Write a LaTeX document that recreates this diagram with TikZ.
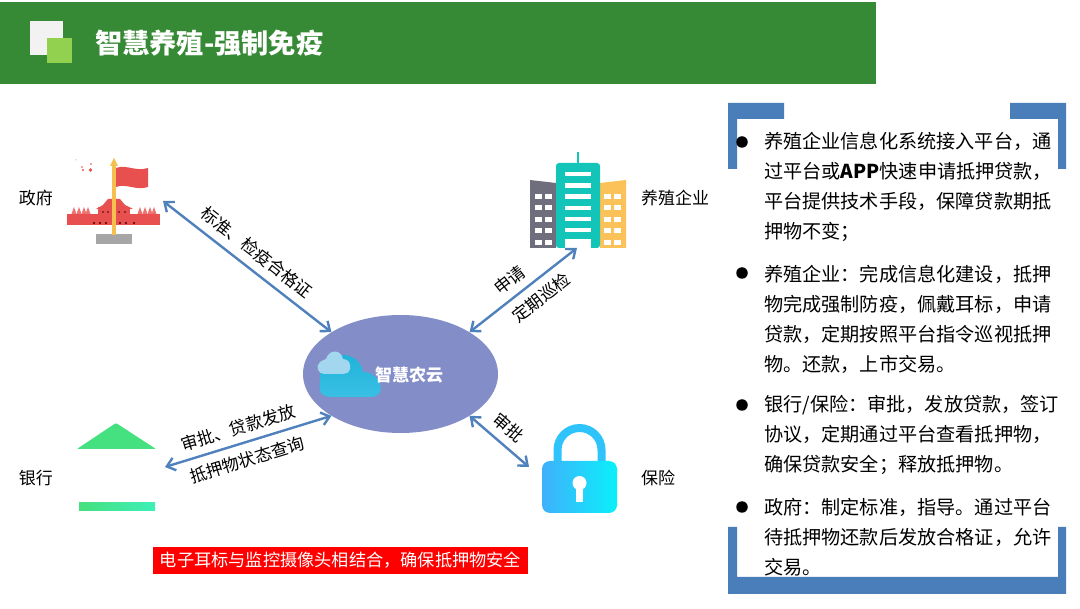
\documentclass[tikz,border=0pt]{standalone}
\usepackage{fontspec}
\setmainfont{Noto Sans CJK SC}
\usetikzlibrary{arrows.meta, shapes.geometric}
\definecolor{headgreen}{HTML}{378A35}
\definecolor{leafgreen}{HTML}{92D050}
\definecolor{linkblue}{HTML}{4F81BD}
\definecolor{framblue}{HTML}{4A7EBB}
\definecolor{hubblue}{HTML}{838DC7}
\definecolor{flagred}{HTML}{E8504F}
\definecolor{polegold}{HTML}{F5C050}
\definecolor{towergray}{HTML}{6F6E7C}
\definecolor{towerteal}{HTML}{12C5B8}
\definecolor{toweramber}{HTML}{FBC25A}
\definecolor{bankgreen}{HTML}{45E07F}
\definecolor{bankmint}{HTML}{3EEFB8}
\definecolor{lockblue}{HTML}{3FB0FB}
\definecolor{lockcyan}{HTML}{0AF0FA}
\definecolor{cloudsea}{HTML}{1FB3DA}
\definecolor{cloudsky}{HTML}{3ABFE4}
\definecolor{cloudpale}{HTML}{A3D6EF}
\begin{document}
\begin{tikzpicture}[x=1pt, y=-1pt,
    link/.style={{Straight Barb[length=8pt, width=13pt]}-{Straight Barb[length=8pt, width=13pt]}, linkblue, line width=2.4pt},
    lab/.style={font=\fontsize{17}{20}\selectfont, text=black, inner sep=0pt, sloped},
    actor/.style={font=\fontsize{17}{20}\selectfont, inner sep=0pt},
    para/.style={font=\fontsize{19.15}{30}\selectfont, align=left, anchor=west, inner sep=0pt},
    dot/.style={circle, fill=black, minimum size=11.5pt, inner sep=0pt}]
  \useasboundingbox (0,0) rectangle (1080,609);
  \fill[white] (0,0) rectangle (1080,609);

  % Header
  \fill[headgreen] (0,2) rectangle (876,84);
  \fill[black!5] (30,21) rectangle (63,55);
  \fill[leafgreen] (47,38) rectangle (72,63);
  \node[font=\bfseries\fontsize{27.2}{30}\selectfont, text=white, anchor=west, inner sep=0pt] (title) at (95,43) {智慧养殖-强制免疫};

  % Government icon
  \fill[flagred] (67,214) rectangle (160,225);
  \fill[flagred] (98,214) rectangle (130,207);
  \fill[flagred] (96,209) -- (103,205) -- (125,205) -- (133,209) -- cycle;
  \fill[flagred] (103,205) -- (108,199) -- (120,199) -- (125,205) -- cycle;
  \foreach \xa in {74,79,84,88,140,145,150,154}
    \fill[flagred!80!white] (\xa-2.5,214) -- (\xa,207) -- (\xa+2.5,214) -- cycle;
  \foreach \xa in {94,100,106,120,126,134}
    \fill[black!70!red] (\xa,223) circle (1.2);
  \foreach \xa in {103,108,119,125}
    \fill[black!70!red] (\xa,212) circle (0.9);
  \fill[black!35] (96,234) rectangle (132,244);
  \fill[flagred] (116,168) .. controls (126,164) and (136,172) .. (148,168) -- (148,187) .. controls (136,191) and (126,183) .. (116,187) -- cycle;
  \fill[polegold] (112,165) rectangle (116,235);
  \fill[polegold] (114,158) -- (118,166) -- (110,166) -- cycle;
  \foreach \xa/\ya/\ra in {82/167/0.8,83/170/1.1,90.5/170/1.8,91/164/0.9,76/160/0.5}
    \fill[flagred] (\xa,\ya) circle (\ra);

  % Enterprise icon
  \fill[towergray] (530,180) -- (556,183) -- (556,248) -- (530,248) -- cycle;
  \fill[toweramber] (600,183) -- (626,180) -- (626,248) -- (600,248) -- cycle;
  \fill[towerteal] (577,152) rectangle (578.5,165);
  \fill[towerteal, rounded corners=3pt] (556,163) rectangle (600,248);
  \foreach \ya in {0,...,4} {
    \fill[white] (535,194+\ya*11.4) rectangle +(7,5);
    \fill[white] (545,194+\ya*11.4) rectangle +(7,5);
    \fill[white] (604,194+\ya*11.4) rectangle +(7,5);
    \fill[white] (614,194+\ya*11.4) rectangle +(7,5);
  }
  \foreach \ya in {0,...,5}
    \fill[white] (565,172+\ya*11.2) rectangle +(26,4.5);
  \fill[white] (565,239) rectangle (591,248);

  % Bank icon
  \fill[bankgreen, rounded corners=1pt] (116,423) -- (156,449) -- (77,449) -- cycle;
  \shade[left color=bankgreen, right color=bankmint] (79,503) rectangle (155,511);

  % Insurance icon
  \draw[lockblue!70!lockcyan, line width=8pt] (557.5,462) -- (557.5,450) arc[start angle=180, end angle=360, radius=22] -- (601.5,462);
  \shade[left color=lockblue, right color=lockcyan, rounded corners=8pt] (542,461) rectangle (617,513);
  \fill[white] (579.5,483) circle (7);
  \fill[white] (576,484) rectangle (583,502);

  % Nodes
  \node[ellipse, fill=hubblue, minimum width=195pt, minimum height=118pt, inner sep=0pt] (hub) at (400.5,374) {};
  \shade[top color=cloudsea, bottom color=cloudsky]
    (332,397) .. controls (322,397) and (318,392) .. (320,384) -- (320,372)
    .. controls (321,360) and (330,355) .. (340,355) .. controls (352,354) and (361,361) .. (363,372)
    .. controls (376,372) and (383,385) .. (380,392) .. controls (378,396) and (374,397) .. (370,397) -- cycle;
  \fill[cloudpale] (324,374) .. controls (318,374) and (315,366) .. (320,362)
    .. controls (322,360) and (325,360) .. (326,359) .. controls (329,349) and (341,349) .. (343,359)
    .. controls (349,359) and (351,364) .. (350,369) .. controls (349,373) and (346,374) .. (343,374) -- cycle;
  \node[font=\bfseries\fontsize{17}{20}\selectfont, text=white, inner sep=0pt] (hubname) at (409,375) {智慧农云};
  \node[actor] (gov) at (36,198) {政府};
  \node[actor] (firm) at (675,198) {养殖企业};
  \node[actor] (bank) at (36,478) {银行};
  \node[actor] (insurer) at (658,478) {保险};
  \coordinate (govtip) at (163,201);
  \coordinate (firmtip) at (577,248);
  \coordinate (banktip) at (165,467);
  \coordinate (insurertip) at (529,467);

  % Edges with labels
  \draw[link] (govtip) -- node[lab, above=8pt, pos=0.494] (govlab) {标准、检疫合格证} (hub.north west);
  \draw[link] (firmtip) -- node[lab, above=7pt, pos=0.535] (firmlaba) {申请} node[lab, below=8pt, pos=0.43] (firmlabb) {定期巡检} (hub.north east);
  \draw[link] (banktip) -- node[lab, above=7pt, pos=0.468] (banklaba) {审批、贷款发放} node[lab, below=8pt, pos=0.463] (banklabb) {抵押物状态查询} (hub.south west);
  \draw[link] (hub.south east) -- node[lab, above=8pt, pos=0.478] (insurerlab) {审批} (insurertip);

  % Notice
  \node[fill=red, text=white, font=\fontsize{17.2}{20}\selectfont, minimum width=375pt, minimum height=27pt, inner sep=0pt] (notice) at (340.5,560.5) {电子耳标与监控摄像头相结合，确保抵押物安全};

  % Frame
  \fill[framblue] (728,103) -- (784,103) -- (784,119) -- (737,119) -- (737,169) -- (728,169) -- cycle;
  \fill[framblue] (1066,103) -- (1010,103) -- (1010,119) -- (1058,119) -- (1058,169) -- (1066,169) -- cycle;
  \fill[framblue] (728,527) -- (737,527) -- (737,577) -- (1058,577) -- (1058,527) -- (1066,527) -- (1066,594) -- (728,594) -- cycle;

  % Text list
  \node[dot] (dota) at (742,142) {};
  \node[dot] (dotb) at (742,273) {};
  \node[dot] (dotc) at (742,405) {};
  \node[dot] (dotd) at (742,507) {};
  \node[para] (paraa) at (764,187) {养殖企业信息化系统接入平台，通\\过平台或\textbf{APP}快速申请抵押贷款，\\平台提供技术手段，保障贷款期抵\\押物不变；};
  \node[para] (parab) at (764,319) {养殖企业：完成信息化建设，抵押\\物完成强制防疫，佩戴耳标，申请\\贷款，定期按照平台指令巡视抵押\\物。还款，上市交易。};
  \node[para] (parac) at (764,435) {银行/保险：审批，发放贷款，签订\\协议，定期通过平台查看抵押物，\\确保贷款安全；释放抵押物。};
  \node[para] (parad) at (764,537.5) {政府：制定标准，指导。通过平台\\待抵押物还款后发放合格证，允许\\交易。};
\end{tikzpicture}
\end{document}
